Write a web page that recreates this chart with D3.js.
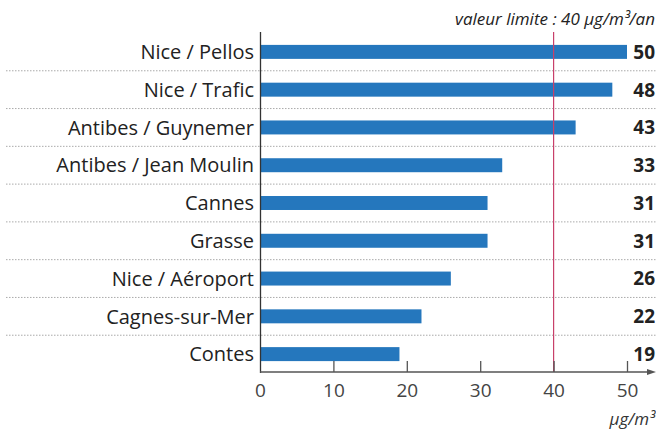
<!DOCTYPE html>
<html><head><meta charset="utf-8">
<script src="https://cdn.jsdelivr.net/npm/d3@7"></script>
<style>body{margin:0;background:#fff}svg{display:block}text{font-family:"Open Sans",sans-serif}</style>
</head><body>
<svg id="c" width="656" height="432"></svg>
<script>
const categories = ["Nice / Pellos","Nice / Trafic","Antibes / Guynemer","Antibes / Jean Moulin","Cannes","Grasse","Nice / Aéroport","Cagnes-sur-Mer","Contes"];
const values = [50,48,43,33,31,31,26,22,19];
const tickValues = [0,10,20,30,40,50];
const limitValue = 40;
const limitLabel = "valeur limite : 40 µg/m³/an";
const unitLabel = "µg/m³";

const svg = d3.select("#c");
const x = d3.scaleLinear().domain([0,50]).range([260,627]);
const y = d3.scaleBand().domain(categories).range([33,373]).paddingInner(0.63).paddingOuter(0.315);
const step = y.step();

// separators
svg.append("g").selectAll("line").data(categories.slice(1)).join("line")
  .attr("x1",6).attr("x2",656)
  .attr("y1",d=>y(d)-y.paddingInner()*step/2).attr("y2",d=>y(d)-y.paddingInner()*step/2)
  .attr("stroke","#aaaaaa").attr("stroke-width",1).attr("stroke-dasharray","1.5,1.5");

// bars
svg.append("g").selectAll("rect").data(values).join("rect")
  .attr("x",x(0)+1).attr("y",(d,i)=>y(categories[i]))
  .attr("width",d=>x(d)-x(0)-1).attr("height",y.bandwidth())
  .attr("fill","#2577bd");

// limit line
svg.append("line").attr("x1",x(limitValue)).attr("x2",x(limitValue))
  .attr("y1",32).attr("y2",372).attr("stroke","#c8406a").attr("stroke-width",1.2);

// y axis line
svg.append("line").attr("x1",x(0)+0.5).attr("x2",x(0)+0.5).attr("y1",32).attr("y2",373)
  .attr("stroke","#333").attr("stroke-width",1.3);

// x axis
const axisY = 372;
const ax = svg.append("g").attr("transform",`translate(0,${axisY})`)
  .call(d3.axisBottom(x).tickValues(tickValues).tickSize(0).tickPadding(12));
ax.select(".domain").remove();
ax.selectAll("text").attr("font-size",19).attr("fill","#444").attr("font-family","'Open Sans',sans-serif");
ax.selectAll(".tick").filter(d=>d>0).append("line").attr("y1",-11).attr("y2",0).attr("stroke","#555").attr("stroke-width",1.3);
svg.append("line").attr("x1",x(0)).attr("x2",650).attr("y1",axisY).attr("y2",axisY).attr("stroke","#555").attr("stroke-width",1.3);
svg.append("path").attr("d",`M656,${axisY} L647,${axisY-3} L647,${axisY+3} Z`).attr("fill","#555");

// category labels
svg.append("g").selectAll("text").data(categories).join("text")
  .attr("x",254).attr("y",d=>y(d)+y.bandwidth()/2).attr("dy","0.36em")
  .attr("text-anchor","end").attr("font-size",20).attr("fill","#222").text(d=>d);

// value labels
svg.append("g").selectAll("text").data(values).join("text")
  .attr("x",655).attr("y",(d,i)=>y(categories[i])+y.bandwidth()/2).attr("dy","0.36em")
  .attr("text-anchor","end").attr("font-size",19).attr("font-weight","bold").attr("fill","#222").text(d=>d);

// titles
svg.append("text").attr("x",655).attr("y",25).attr("text-anchor","end")
  .attr("font-size",17).attr("font-style","italic").attr("fill","#222").text(limitLabel);
svg.append("text").attr("x",655).attr("y",425).attr("text-anchor","end")
  .attr("font-size",17).attr("font-style","italic").attr("fill","#333").text(unitLabel);
</script>
</body></html>
